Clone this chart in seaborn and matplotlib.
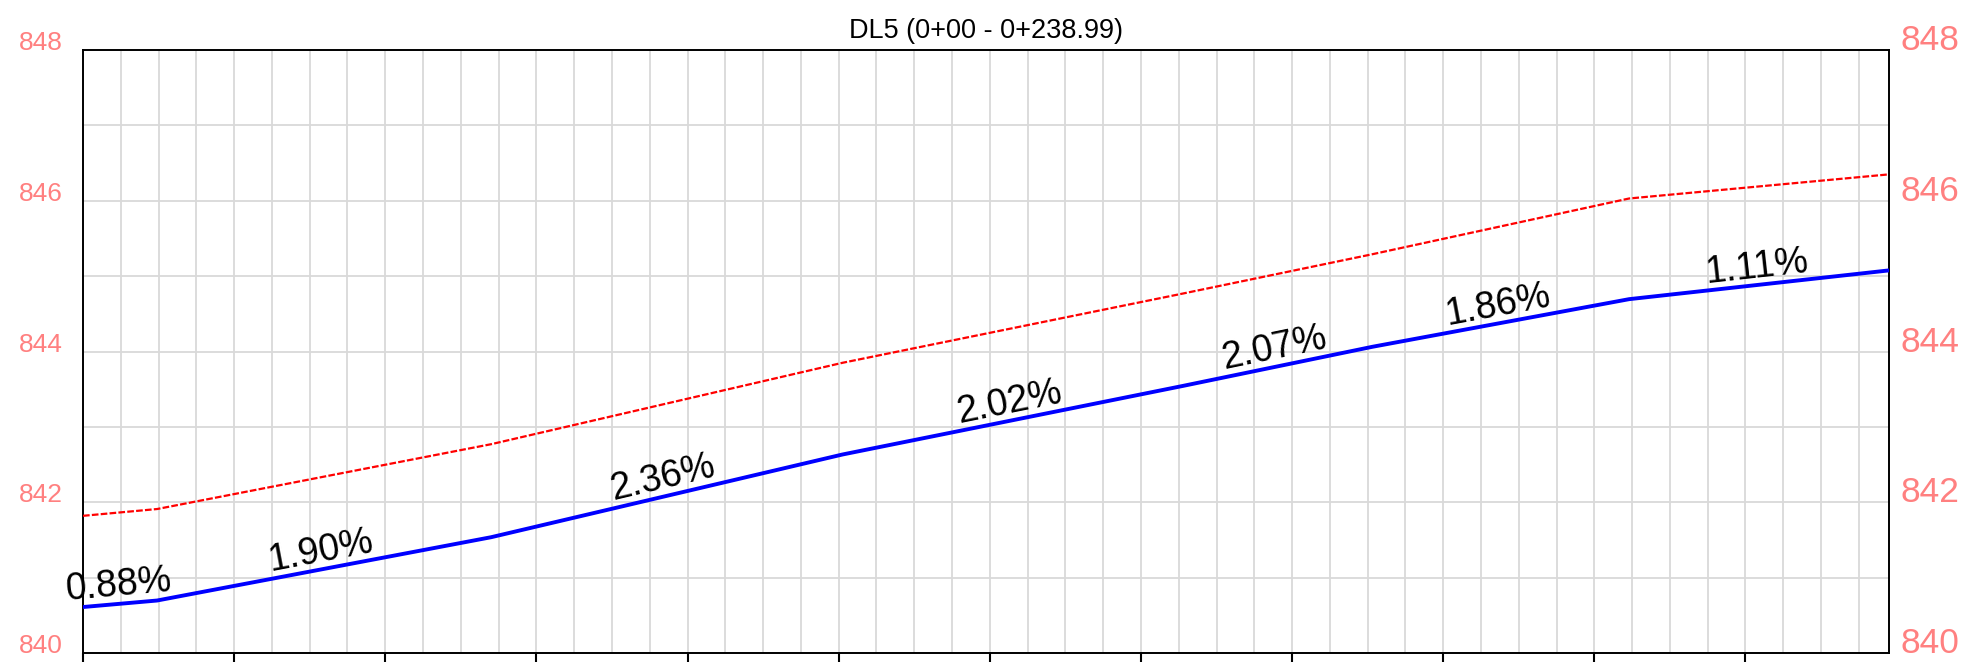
import numpy as np
import pandas as pd
import matplotlib
matplotlib.use("Agg")
import matplotlib.pyplot as plt
from matplotlib.ticker import MultipleLocator
import seaborn as sns

# Profile stations (m) where the grade changes
stations = [0.0, 9.8, 54.0, 100.5, 145.6, 170.6, 204.6, 238.99]
# Design grades (%) of each segment between consecutive stations
grades = [0.88, 1.90, 2.36, 2.02, 2.07, 1.86, 1.11]
start_elevation = 840.61
# Existing ground elevations at the same stations
ground = [841.82, 841.91, 842.77, 843.85, 844.77, 845.29, 846.03, 846.35]

title = "DL5 (0+00 - 0+238.99)"
y_ticks = [840, 842, 844, 846, 848]

# Design profile built from the stated grades
design = [start_elevation]
for i, g in enumerate(grades):
    design.append(design[-1] + (stations[i + 1] - stations[i]) * g / 100.0)

df = pd.DataFrame({"station": stations, "design": design, "ground": ground})

sns.set_theme(style="white")
plt.rcParams["font.family"] = ["Liberation Sans", "DejaVu Sans"]

W, H = 1964, 662
fig = plt.figure(figsize=(W / 100, H / 100), dpi=100)
ax = fig.add_axes([83 / W, 1 - 653 / H, (1889 - 83) / W, (653 - 50) / H])

ax.set_xlim(0, 238.99)
ax.set_ylim(840, 848)

sns.lineplot(data=df, x="station", y="ground", ax=ax, color="red", lw=1.6,
             linestyle=(0, (3, 1)), sort=False, estimator=None, zorder=3)
sns.lineplot(data=df, x="station", y="design", ax=ax, color="#0000ff", lw=2.8,
             sort=False, estimator=None, zorder=4)

# Grid: every 5 m horizontally, every 1 m vertically
ax.xaxis.set_major_locator(MultipleLocator(20))
ax.xaxis.set_minor_locator(MultipleLocator(5))
ax.yaxis.set_major_locator(MultipleLocator(2))
ax.yaxis.set_minor_locator(MultipleLocator(1))
ax.grid(True, which="both", color="#d9d9d9", lw=1.3)
ax.set_axisbelow(True)

for s in ax.spines.values():
    s.set_color("black")
    s.set_linewidth(1.4)

ax.set_xlabel("")
ax.set_ylabel("")
ax.tick_params(axis="x", which="major", direction="out", length=14, width=1.5,
               color="black", labelbottom=False, bottom=True)
ax.tick_params(axis="x", which="minor", length=0)
ax.tick_params(axis="y", which="both", length=0)
ax.set_yticks(y_ticks)
ax.set_yticklabels([str(v) for v in y_ticks], fontsize=19, color="#ff8080")
ax.tick_params(axis="y", pad=14.5)
for lab in ax.get_yticklabels():
    lab.set_va("baseline")

ax2 = ax.twinx()
ax2.set_ylim(840, 848)
ax2.set_yticks(y_ticks)
ax2.set_yticklabels([str(v) for v in y_ticks], fontsize=25.5, color="#ff8080")
ax2.tick_params(axis="y", length=0, pad=8)
ax2.grid(False)
for lab in ax2.get_yticklabels():
    lab.set_va("baseline")
for s in ax2.spines.values():
    s.set_visible(False)

ax.set_title(title, fontsize=19.5, color="black", pad=9)

# Grade labels along each segment
for i, g in enumerate(grades):
    x0, x1 = stations[i], stations[i + 1]
    y0, y1 = design[i], design[i + 1]
    p0 = ax.transData.transform((x0, y0))
    p1 = ax.transData.transform((x1, y1))
    ang = np.degrees(np.arctan2(p1[1] - p0[1], p1[0] - p0[0]))
    xm, ym = (x0 + x1) / 2, (y0 + y1) / 2
    ax.annotate(f"{g:.2f}%", (xm, ym), xytext=(0, 0), textcoords="offset points",
                ha="center", va="bottom", rotation=ang, rotation_mode="anchor",
                fontsize=27, color="black", zorder=5, annotation_clip=False)

fig.savefig("out.png", dpi=100)
